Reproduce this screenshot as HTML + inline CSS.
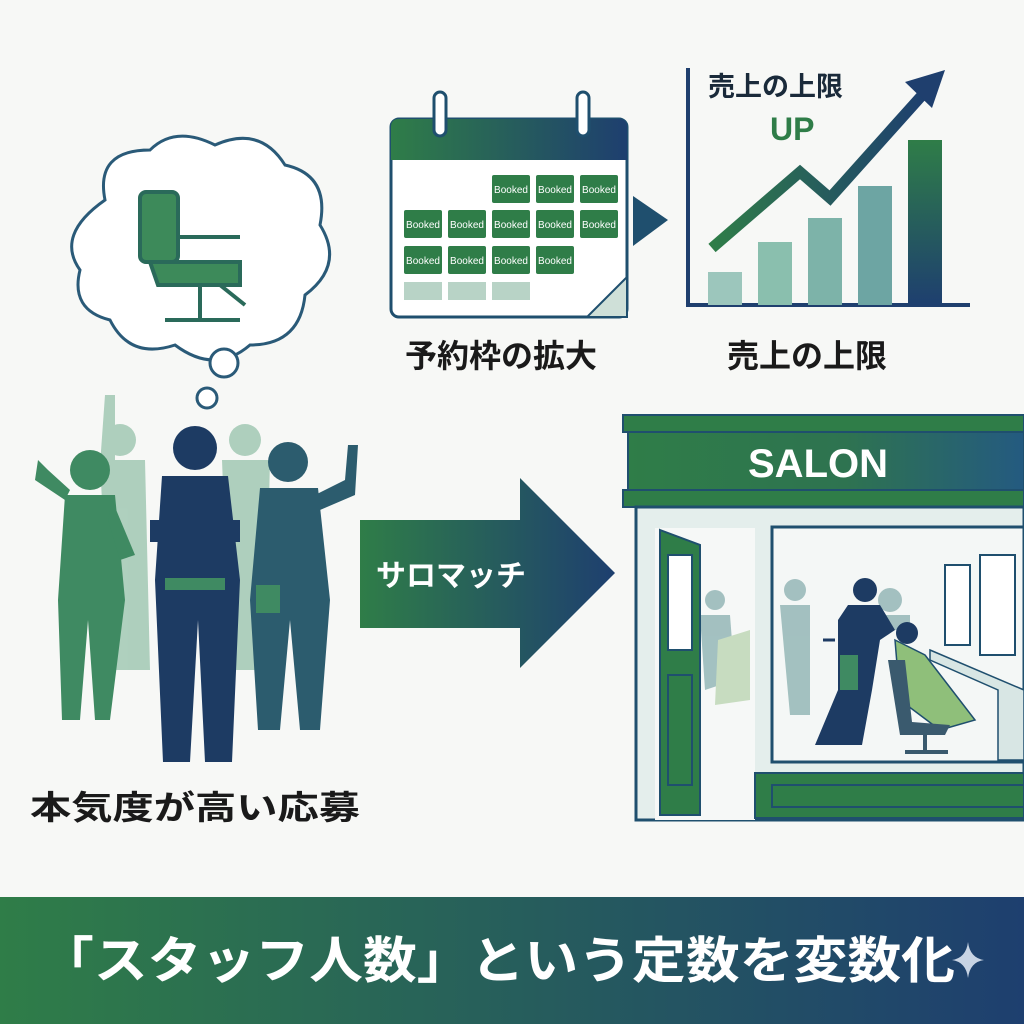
<!DOCTYPE html>
<html><head><meta charset="utf-8">
<style>
body{margin:0;width:1024px;height:1024px;overflow:hidden;background:#f7f8f6;}
svg{display:block;}
text{font-family:"Liberation Sans","Noto Sans CJK JP",sans-serif;}
</style></head>
<body>
<svg width="1024" height="1024" viewBox="0 0 1024 1024">
<defs>
<linearGradient id="gb" x1="0" x2="1" y1="0" y2="0"><stop offset="0" stop-color="#2f7d48"/><stop offset="1" stop-color="#1e3f6f"/></linearGradient>
<linearGradient id="gv" x1="0" x2="0" y1="0" y2="1"><stop offset="0" stop-color="#2f7d48"/><stop offset="1" stop-color="#1e3f6f"/></linearGradient>
<linearGradient id="gs" x1="0" x2="1"><stop offset="0" stop-color="#2f7d48"/><stop offset="0.55" stop-color="#2e7350"/><stop offset="1" stop-color="#245a80"/></linearGradient>
</defs>
<rect width="1024" height="1024" fill="#f7f8f6"/>

<!-- thought cloud -->
<path d="M105 200 Q95 150 150 150 Q175 125 215 145 Q260 125 285 165 Q330 175 320 225 Q345 265 305 295 Q300 345 250 345 Q215 375 175 345 Q130 360 110 320 Q70 310 80 270 Q55 235 105 200 Z" fill="#fff" stroke="#2a5a78" stroke-width="3"/>
<circle cx="224" cy="363" r="14" fill="#fff" stroke="#2a5a78" stroke-width="3"/>
<circle cx="207" cy="398" r="10" fill="#fff" stroke="#2a5a78" stroke-width="3"/>
<!-- chair -->
<g fill="none" stroke="#2a6a5a" stroke-width="4">
<rect x="140" y="192" width="38" height="70" rx="6" fill="#3d8a5a"/>
<path d="M150 262 L240 262 L240 285 L158 285 Z" fill="#3d8a5a"/>
<path d="M178 237 L240 237" />
<path d="M200 285 L200 320 M165 320 L240 320 M220 285 L245 305"/>
</g>

<!-- calendar -->
<rect x="391" y="119" width="236" height="198" rx="8" fill="#fff" stroke="#1f4f6e" stroke-width="3"/>
<path d="M391 160 L391 127 Q391 119 399 119 L619 119 Q627 119 627 127 L627 160 Z" fill="url(#gb)"/>
<rect x="434" y="92" width="12" height="44" rx="6" fill="#fff" stroke="#1f4f6e" stroke-width="3"/>
<rect x="577" y="92" width="12" height="44" rx="6" fill="#fff" stroke="#1f4f6e" stroke-width="3"/>
<path d="M627 277 L587 317 L627 317 Z" fill="#cfe0d8" stroke="#1f4f6e" stroke-width="2"/>
<g font-size="10" fill="#fff" text-anchor="middle">
<g fill="#2f7d48">
<rect x="492" y="175" width="38" height="28" rx="2"/><rect x="536" y="175" width="38" height="28" rx="2"/><rect x="580" y="175" width="38" height="28" rx="2"/>
<rect x="404" y="210" width="38" height="28" rx="2"/><rect x="448" y="210" width="38" height="28" rx="2"/><rect x="492" y="210" width="38" height="28" rx="2"/><rect x="536" y="210" width="38" height="28" rx="2"/><rect x="580" y="210" width="38" height="28" rx="2"/>
<rect x="404" y="246" width="38" height="28" rx="2"/><rect x="448" y="246" width="38" height="28" rx="2"/><rect x="492" y="246" width="38" height="28" rx="2"/><rect x="536" y="246" width="38" height="28" rx="2"/>
</g>
<g fill="#b8d3c6"><rect x="404" y="282" width="38" height="18"/><rect x="448" y="282" width="38" height="18"/><rect x="492" y="282" width="38" height="18"/></g>
<text x="511" y="193">Booked</text><text x="555" y="193">Booked</text><text x="599" y="193">Booked</text>
<text x="423" y="228">Booked</text><text x="467" y="228">Booked</text><text x="511" y="228">Booked</text><text x="555" y="228">Booked</text><text x="599" y="228">Booked</text>
<text x="423" y="264">Booked</text><text x="467" y="264">Booked</text><text x="511" y="264">Booked</text><text x="555" y="264">Booked</text>
</g>
<path d="M633 196 L668 220 L633 246 Z" fill="#1f4f6e"/>

<!-- chart -->
<path d="M688 68 L688 305 L970 305" fill="none" stroke="#1f3f6e" stroke-width="4"/>
<rect x="708" y="272" width="34" height="33" fill="#9cc6bc"/>
<rect x="758" y="242" width="34" height="63" fill="#8abfae"/>
<rect x="808" y="218" width="34" height="87" fill="#7db3a9"/>
<rect x="858" y="186" width="34" height="119" fill="#6da5a3"/>
<rect x="908" y="140" width="34" height="165" fill="url(#gv)"/>
<path d="M712 248 L800 172 L830 198 L925 92" fill="none" stroke="url(#gb)" stroke-width="11"/>
<path d="M945 70 L905 82 L932 108 Z" fill="#1f3f6e"/>
<text x="708" y="96" font-size="27" font-weight="bold" fill="#1a2a3a">売上の上限</text>
<text x="770" y="140" font-size="32" font-weight="bold" fill="#2f7d48">UP</text>

<text x="405" y="367" font-size="32" font-weight="bold" fill="#1a1a1a">予約枠の拡大</text>
<text x="727" y="367" font-size="32" font-weight="bold" fill="#1a1a1a">売上の上限</text>

<!-- people -->
<g fill="#9cc6b0" opacity="0.8">
<circle cx="120" cy="440" r="16"/><path d="M100 460 L145 460 L150 670 L110 670 Z"/><path d="M100 465 L105 395 L115 395 L115 460Z"/>
<circle cx="245" cy="440" r="16"/><path d="M222 460 L270 460 L265 670 L230 670 Z"/>
</g>
<g fill="#3f8a62">
<circle cx="90" cy="470" r="20"/><path d="M65 495 L115 495 L125 600 L110 720 L95 720 L88 620 L80 720 L62 720 L58 600 Z"/>
<path d="M65 500 L35 480 L38 460 L48 470 L70 490 Z"/><path d="M112 500 L135 555 L120 560 L108 520Z"/>
</g>
<g fill="#2c5c6e">
<circle cx="288" cy="462" r="20"/><path d="M260 488 L318 488 L330 600 L320 730 L300 730 L290 620 L280 730 L258 730 L250 600 Z"/>
<path d="M315 495 L345 480 L348 445 L358 445 L355 495 L320 510Z"/>
<rect x="256" y="585" width="24" height="28" fill="#3f8a62"/>
</g>
<g fill="#1d3b63">
<circle cx="195" cy="448" r="22"/><path d="M162 476 L228 476 L240 580 L232 762 L205 762 L198 620 L190 762 L163 762 L155 580 Z"/>
<rect x="150" y="520" width="90" height="22"/>
<rect x="165" y="578" width="60" height="12" fill="#3f8a62"/>
</g>
<text x="30" y="819" font-size="33" font-weight="bold" fill="#1a1a1a" textLength="330" lengthAdjust="spacingAndGlyphs">本気度が高い応募</text>

<!-- big arrow -->
<path d="M360 520 L520 520 L520 478 L615 573 L520 668 L520 628 L360 628 Z" fill="url(#gb)"/>
<text x="376" y="586" font-size="30" font-weight="bold" fill="#fff">サロマッチ</text>

<!-- salon -->
<rect x="623" y="415" width="401" height="17" fill="#2f7d48" stroke="#1f4f6e" stroke-width="2"/>
<rect x="628" y="432" width="396" height="58" fill="url(#gs)" stroke="#1f4f6e" stroke-width="2"/>
<text x="818" y="477" font-size="40" font-weight="bold" fill="#fff" text-anchor="middle">SALON</text>
<rect x="623" y="490" width="401" height="17" fill="#2f7d48" stroke="#1f4f6e" stroke-width="2"/>
<rect x="636" y="507" width="388" height="313" fill="#e4eeec" stroke="#1f4f6e" stroke-width="3"/>
<rect x="655" y="528" width="100" height="292" fill="#f6f8f7"/>
<rect x="772" y="527" width="252" height="235" fill="#f4f7f6" stroke="#1f4f6e" stroke-width="3"/>
<g fill="#8fb3b3" opacity="0.8">
<circle cx="715" cy="600" r="10"/><path d="M700 615 L730 615 L735 680 L705 690Z"/>
<circle cx="795" cy="590" r="11"/><path d="M780 605 L810 605 L810 715 L790 715Z"/>
<circle cx="890" cy="600" r="12"/><path d="M870 615 L910 615 L910 630 L870 630Z"/>
</g>
<path d="M718 640 L750 630 L750 700 L715 705Z" fill="#c7dcc0"/>
<rect x="945" y="565" width="25" height="80" fill="#fff" stroke="#1f4f6e" stroke-width="2"/>
<rect x="980" y="555" width="35" height="100" fill="#fff" stroke="#1f4f6e" stroke-width="2"/>
<path d="M930 650 L1024 690 L1024 760 L998 760 L998 690 L930 660Z" fill="#d8e6e4" stroke="#1f4f6e" stroke-width="1.5"/>
<g fill="#1d3b63">
<circle cx="865" cy="590" r="12"/><path d="M848 605 L880 605 L895 630 L880 640 L872 690 L862 745 L815 745 L838 690 L838 620Z"/>
</g>
<rect x="840" y="655" width="18" height="35" fill="#3f8a62"/>
<path d="M895 640 L925 655 L975 720 L940 730 L900 700Z" fill="#8fbf7a" stroke="#1f4f6e" stroke-width="1.5"/>
<circle cx="907" cy="633" r="11" fill="#1d3b63"/>
<path d="M888 660 L905 660 L912 722 L950 725 L945 735 L900 735 Z" fill="#3a5a6e"/>
<path d="M925 735 L925 750 M905 752 L948 752" stroke="#3a5a6e" stroke-width="4"/>
<path d="M823 640 L835 640" stroke="#1d3b63" stroke-width="3"/>
<path d="M660 530 L700 545 L700 815 L660 815 Z" fill="#2f7d48" stroke="#1f4f6e" stroke-width="2"/>
<rect x="668" y="555" width="24" height="95" fill="#fff" stroke="#1f4f6e" stroke-width="2"/>
<rect x="668" y="675" width="24" height="110" fill="none" stroke="#1f4f6e" stroke-width="2"/>
<rect x="755" y="773" width="269" height="45" fill="#2f7d48" stroke="#1f4f6e" stroke-width="2"/>
<rect x="772" y="785" width="252" height="22" fill="none" stroke="#1f4f6e" stroke-width="2"/>

<!-- bottom banner -->
<rect x="0" y="897" width="1024" height="127" fill="url(#gb)"/>
<text x="40" y="978" font-size="50" font-weight="bold" fill="#fff" textLength="915" lengthAdjust="spacingAndGlyphs">「スタッフ人数」という定数を変数化</text>
<path d="M968 942 Q970 958 984 960 Q970 962 968 978 Q966 962 952 960 Q966 958 968 942Z" fill="#c8d4e4"/>
</svg>
</body></html>
